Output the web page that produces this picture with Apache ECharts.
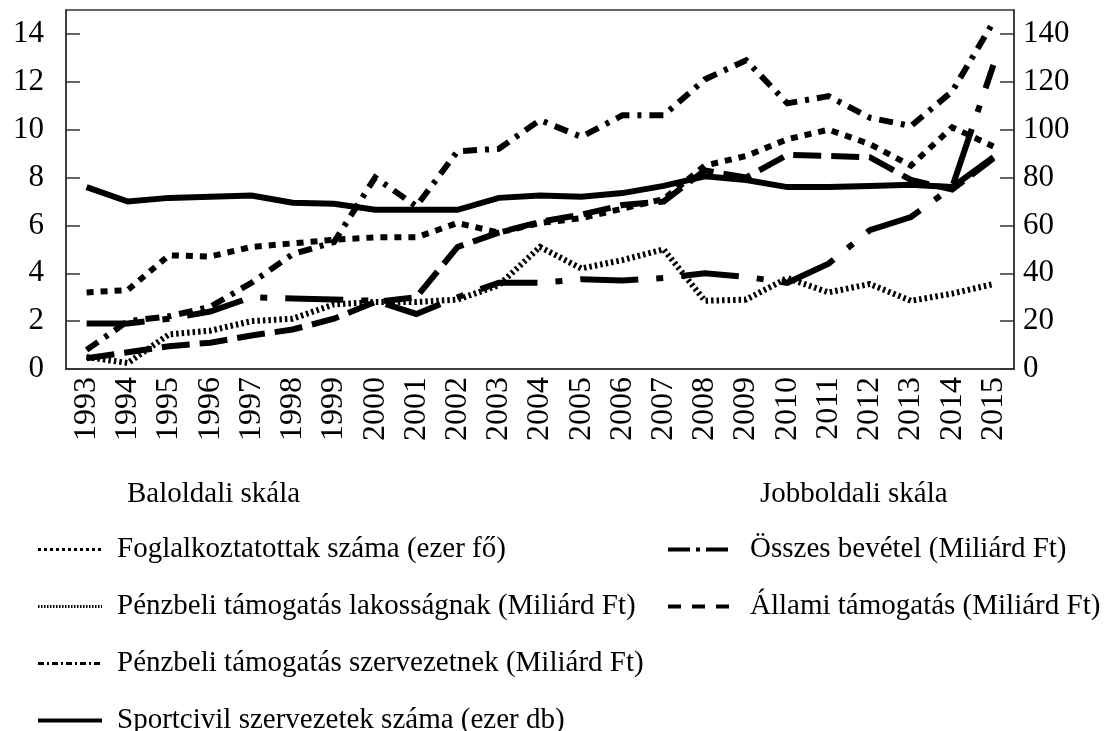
<!DOCTYPE html>
<html>
<head>
<meta charset="utf-8">
<script src="https://cdn.jsdelivr.net/npm/echarts@6.0.0/dist/echarts.min.js"></script>
<style>
  html, body { margin: 0; padding: 0; background: #fff; }
  #chart { width: 1104px; height: 731px; }
</style>
</head>
<body>
<div id="chart"></div>
<script>
var years = ['1993', '1994', '1995', '1996', '1997', '1998', '1999', '2000', '2001', '2002', '2003', '2004',
    '2005', '2006', '2007', '2008', '2009', '2010', '2011', '2012', '2013', '2014', '2015'];

// Baloldali skála
var foglalkoztatottak = [3.2, 3.3, 4.75, 4.7, 5.1, 5.25, 5.4, 5.5, 5.5, 6.1, 5.7, 6.1,
    6.3, 6.7, 7.1, 8.5, 8.9, 9.6, 10.0, 9.4, 8.5, 10.1, 9.3];
var lakossagnak = [0.5, 0.25, 1.45, 1.6, 2.0, 2.1, 2.7, 2.8, 2.8, 2.9, 3.5, 5.1,
    4.2, 4.55, 5.0, 2.85, 2.9, 3.8, 3.2, 3.55, 2.85, 3.15, 3.55];
var szervezetnek = [0.8, 2.0, 2.2, 2.6, 3.6, 4.8, 5.3, 8.0, 6.8, 9.1, 9.2, 10.4,
    9.7, 10.6, 10.6, 12.1, 12.9, 11.1, 11.4, 10.5, 10.15, 11.6, 14.5];
var sportcivil = [7.6, 7.0, 7.15, 7.2, 7.25, 6.95, 6.9, 6.65, 6.65, 6.65, 7.15, 7.25,
    7.2, 7.35, 7.65, 8.05, 7.9, 7.6, 7.6, 7.65, 7.7, 7.6, 8.85];

// Jobboldali skála
var osszesBevetel = [19, 19, 21, 24, 30, 29.5, 29, 28.5, 23, 30, 36, 36,
    37.5, 37, 38, 40, 38.5, 36, 44, 58, 63.5, 76, 127];
var allamiTamogatas = [4.5, 7, 9.5, 11, 14, 16.5, 21, 28, 30, 51, 57, 61.5,
    64.5, 68.5, 70, 83, 80, 89.5, 89, 88.5, 79, 75, 88];

var font = 'Liberation Serif';

var chart = echarts.init(document.getElementById('chart'));

function lineSeries(name, data, axis, dash, width) {
    return {
        name: name,
        type: 'line',
        yAxisIndex: axis,
        data: data,
        symbol: 'none',
        smooth: false,
        lineStyle: { color: '#000', width: width, type: dash, cap: 'butt', join: 'miter' },
        itemStyle: { color: '#000' },
        emphasis: { disabled: true }
    };
}

function legendBox(left, textGap, items) {
    return {
        orient: 'vertical',
        left: left, top: 535,
        height: 200,
        padding: 0,
        itemWidth: 64, itemHeight: 12, itemGap: 28,
        selectedMode: false,
        itemStyle: { opacity: 0 },
        textStyle: { fontFamily: font, fontSize: 29, lineHeight: 28, color: '#000', padding: [0, 0, 0, textGap] },
        data: items
    };
}

var option = {
    animation: false,
    backgroundColor: '#fff',
    textStyle: { fontFamily: font, color: '#000' },
    title: [{
        text: 'Baloldali skála',
        left: 127, top: 480, padding: 0,
        textStyle: { fontFamily: font, fontSize: 29, fontWeight: 'normal', color: '#000' }
    }, {
        text: 'Jobboldali skála',
        left: 760, top: 480, padding: 0,
        textStyle: { fontFamily: font, fontSize: 29, fontWeight: 'normal', color: '#000' }
    }],
    legend: [
        legendBox(36, 10, [
            { name: 'Foglalkoztatottak száma (ezer fő)', lineStyle: { width: 3, type: [3, 3] } },
            { name: 'Pénzbeli támogatás lakosságnak (Miliárd Ft)', lineStyle: { width: 3, type: [1.5, 1.5] } },
            { name: 'Pénzbeli támogatás szervezetnek (Miliárd Ft)', lineStyle: { width: 3, type: [6, 3, 2, 3] } },
            { name: 'Sportcivil szervezetek száma (ezer db)', lineStyle: { width: 4, type: 'solid' } }
        ]),
        legendBox(666, 13, [
            { name: 'Összes bevétel (Miliárd Ft)', lineStyle: { width: 4, type: [22, 6, 4, 6] } },
            { name: 'Állami támogatás (Miliárd Ft)', lineStyle: { width: 4, type: [13, 11] } }
        ])
    ],
    grid: {
        left: 66, right: 90, top: 10, bottom: 362,
        show: true, borderColor: '#333', borderWidth: 1.5
    },
    xAxis: {
        type: 'category',
        data: years,
        boundaryGap: true,
        axisLine: { lineStyle: { color: '#333', width: 1.5 } },
        axisTick: { show: false },
        axisLabel: { rotate: 90, interval: 0, margin: 8, fontSize: 32, fontFamily: font, color: '#000' }
    },
    yAxis: [{
        type: 'value',
        min: 0, max: 15, interval: 2,
        position: 'left',
        splitLine: { show: false },
        axisLine: { show: true, lineStyle: { color: '#333', width: 1.5 } },
        axisTick: { show: true, inside: true, length: 14, lineStyle: { color: '#333', width: 1.5 } },
        axisLabel: { showMaxLabel: false, margin: 22, fontSize: 31, fontFamily: font, color: '#000' }
    }, {
        type: 'value',
        min: 0, max: 150, interval: 20,
        position: 'right',
        splitLine: { show: false },
        axisLine: { show: true, lineStyle: { color: '#333', width: 1.5 } },
        axisTick: { show: true, inside: true, length: 14, lineStyle: { color: '#333', width: 1.5 } },
        axisLabel: { showMaxLabel: false, margin: 9, fontSize: 31, fontFamily: font, color: '#000' }
    }],
    series: [
        lineSeries('Foglalkoztatottak száma (ezer fő)', foglalkoztatottak, 0, [7, 7], 6),
        lineSeries('Pénzbeli támogatás lakosságnak (Miliárd Ft)', lakossagnak, 0, [2.5, 3], 6),
        lineSeries('Pénzbeli támogatás szervezetnek (Miliárd Ft)', szervezetnek, 0, [14, 8, 4, 8], 6),
        lineSeries('Sportcivil szervezetek száma (ezer db)', sportcivil, 0, 'solid', 6),
        lineSeries('Összes bevétel (Miliárd Ft)', osszesBevetel, 1, [58, 18, 7, 18], 6),
        lineSeries('Állami támogatás (Miliárd Ft)', allamiTamogatas, 1, [28, 10], 6)
    ]
};

chart.setOption(option);
</script>
</body>
</html>
